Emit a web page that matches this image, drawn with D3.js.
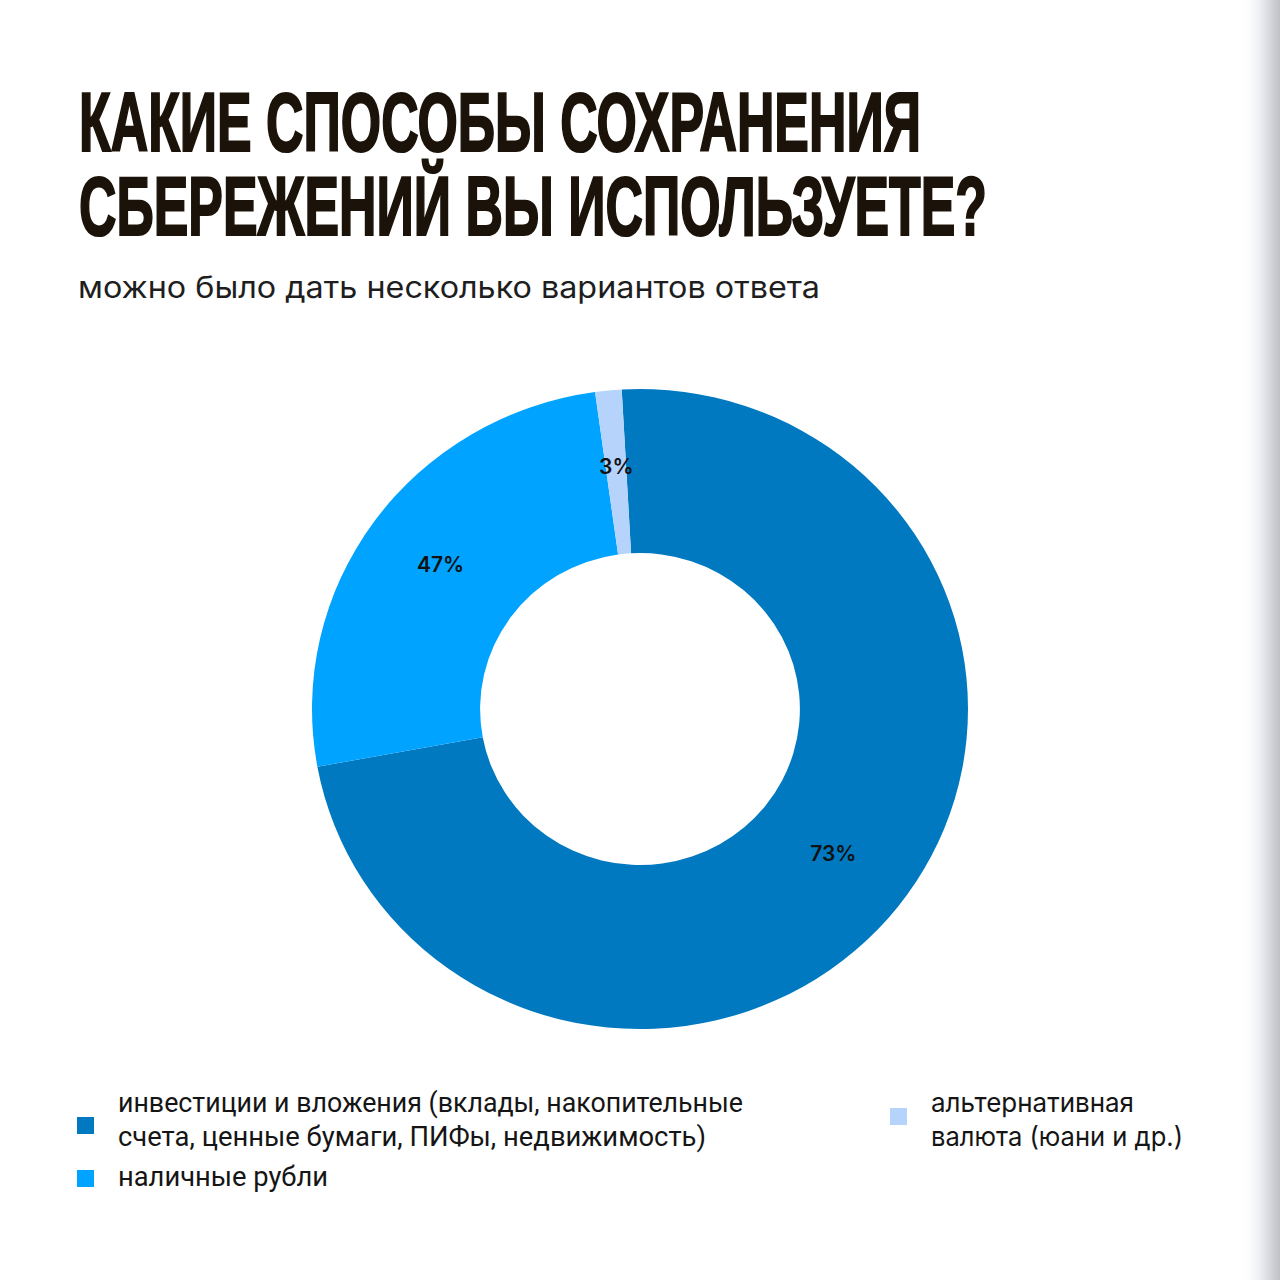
<!DOCTYPE html>
<html><head><meta charset="utf-8">
<script src="https://cdn.jsdelivr.net/npm/d3@7"></script>
<style>html,body{margin:0;padding:0;background:#fff;}svg{display:block;}</style>
</head><body>
<svg id="c" width="1280" height="1280"></svg>
<script>
// ---- data ----
const categories = [
  "инвестиции и вложения (вклады, накопительные счета, ценные бумаги, ПИФы, недвижимость)",
  "наличные рубли",
  "альтернативная валюта (юани и др.)"
];
const sliceShares = [73, 25.7, 1.3];          // arc sizes as drawn
const valueLabels = ["73%", "47%", "3%"];      // labels printed on the ring
const colors = ["#0079C1", "#00A3FF", "#B5D3FB"];
const titleLines = ["КАКИЕ СПОСОБЫ СОХРАНЕНИЯ", "СБЕРЕЖЕНИЙ ВЫ ИСПОЛЬЗУЕТЕ?"];
const subtitle = "можно было дать несколько вариантов ответа";
const legendLines = [
  ["инвестиции и вложения (вклады, накопительные", "счета, ценные бумаги, ПИФы, недвижимость)"],
  ["наличные рубли"],
  ["альтернативная", "валюта (юани и др.)"]
];

const svg = d3.select("#c");
const defs = svg.append("defs");
const g = defs.append("linearGradient").attr("id","edge").attr("x1","0").attr("x2","1");
g.append("stop").attr("offset","0").attr("stop-color","#fff").attr("stop-opacity",0);
g.append("stop").attr("offset","0.5").attr("stop-color","#eceef2").attr("stop-opacity",1);
g.append("stop").attr("offset","1").attr("stop-color","#bfc0c6").attr("stop-opacity",1);
svg.append("rect").attr("x",1240).attr("y",0).attr("width",40).attr("height",1280).attr("fill","url(#edge)");

// title
svg.selectAll("text.title").data(titleLines).join("text")
  .attr("class","title")
  .attr("x",79).attr("y",(d,i)=>151+i*84)
  .attr("font-family","'Liberation Sans Narrow','Liberation Sans',sans-serif")
  .attr("font-weight",700).attr("font-size",84)
  .attr("fill","#1b1309").attr("stroke","#1b1309").attr("stroke-width",2.2)
  .attr("stroke-linejoin","miter")
  .attr("textLength",(d,i)=>i===0?842:908)
  .attr("lengthAdjust","spacingAndGlyphs")
  .text(d=>d);

svg.append("text").attr("x",78).attr("y",298)
  .attr("font-family","Inter, 'Open Sans', sans-serif")
  .attr("font-size",30).attr("fill","#1e1e1e")
  .attr("textLength",742).attr("lengthAdjust","spacingAndGlyphs")
  .text(subtitle);

// donut
const cx = 640, cy = 709;
const pie = d3.pie().sort(null).value(d=>d)
  .startAngle(-3.2*Math.PI/180).endAngle(2*Math.PI-3.2*Math.PI/180);
const arcs = pie(sliceShares);
const arc = d3.arc().innerRadius(156).outerRadius(320);
const labelArc = d3.arc().innerRadius(160).outerRadius(320);
const chart = svg.append("g").attr("transform",`translate(${cx},${cy}) scale(1.025,1)`);
chart.selectAll("path").data(arcs).join("path")
  .attr("d",arc).attr("fill",(d,i)=>colors[i]);
const lbl = svg.append("g").attr("transform",`translate(${cx},${cy})`);
lbl.selectAll("text").data(arcs).join("text")
  .attr("transform",d=>{const c=labelArc.centroid(d);return `translate(${c[0]*1.025},${c[1]-4})`;})
  .attr("text-anchor","middle").attr("dy","0.36em")
  .attr("font-family","Inter, Roboto, sans-serif").attr("font-weight",600)
  .attr("font-size",21).attr("fill","#111")
  .text((d,i)=>valueLabels[i]);

// legend
const legendPos = [
  {sx:77, sy:1117, tx:118, ty:1112, font:"Roboto, 'Noto Sans', sans-serif", fs:28, w:[625,588]},
  {sx:77, sy:1170, tx:118, ty:1186, font:"Roboto, 'Noto Sans', sans-serif", fs:28, w:[210]},
  {sx:890, sy:1108, tx:931, ty:1112, font:"Inter, 'Open Sans', sans-serif", fs:27, w:[203,252]}
];
const leg = svg.append("g");
categories.forEach((c,i)=>{
  const p = legendPos[i];
  leg.append("rect").attr("x",p.sx).attr("y",p.sy).attr("width",17).attr("height",17).attr("fill",colors[i]);
  legendLines[i].forEach((line,j)=>{
    leg.append("text").attr("x",p.tx).attr("y",p.ty+j*34)
      .attr("font-family",p.font).attr("font-size",p.fs).attr("fill","#151515")
      .attr("textLength",p.w[j]).attr("lengthAdjust","spacingAndGlyphs")
      .text(line);
  });
});
</script>
</body></html>
